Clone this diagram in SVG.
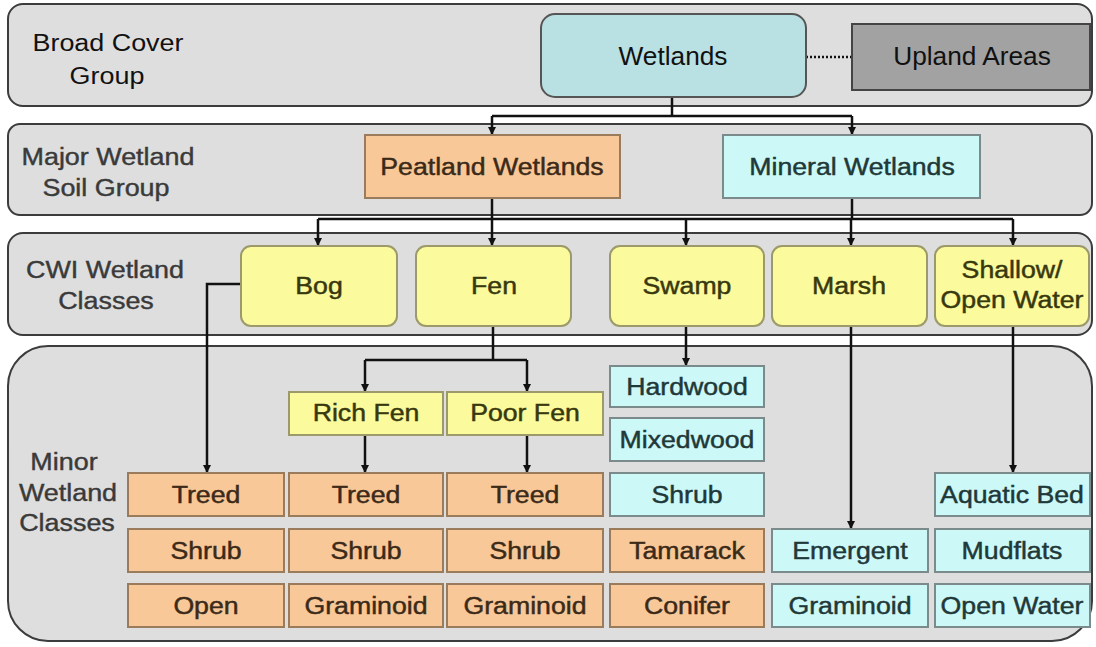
<svg xmlns="http://www.w3.org/2000/svg" width="1096" height="647" viewBox="0 0 1096 647">
<style>
  .band { fill: #dedede; stroke: #3c3c3c; stroke-width: 2; }
  .lbl { font-family: "Liberation Sans", Arial, sans-serif; font-size: 23px; text-anchor: middle; fill: #3a3a3a; stroke: #3a3a3a; stroke-width: 0.4; transform-box: fill-box; transform-origin: center; transform: scaleX(1.17); }
  .lbl-top { fill: #111; stroke: none; }
  .t { font-family: "Liberation Sans", Arial, sans-serif; font-size: 23px; text-anchor: middle; stroke-width: 0.45; transform-box: fill-box; transform-origin: center; transform: scaleX(1.16); }
  .tb { font-family: "Liberation Sans", Arial, sans-serif; font-size: 25px; text-anchor: middle; fill: #111; transform-box: fill-box; transform-origin: center; transform: scaleX(1.05); }
  .or { fill: #f9c898; stroke: #9a7b5c; stroke-width: 2; }
  .cy { fill: #cdf8f8; stroke: #7b8b8b; stroke-width: 2; }
  .ye { fill: #fbfa9c; stroke: #9c9a6a; stroke-width: 2; }
  .or-t { fill: #3b2a18; stroke: #3b2a18; }
  .cy-t { fill: #1f3838; stroke: #1f3838; }
  .ye-t { fill: #38380e; stroke: #38380e; }
  .conn { fill: none; stroke: #111; stroke-width: 2.5; }
</style>
<defs>
  <marker id="arr" viewBox="0 0 10 10" refX="10" refY="5" markerWidth="8" markerHeight="8" markerUnits="userSpaceOnUse" orient="auto">
    <path d="M0,0 L10,5 L0,10 z" fill="#111"/>
  </marker>
</defs>

<!-- bands -->
<g id="band-broad">
  <rect class="band" x="8" y="4" width="1084" height="102" rx="15"/>
  <text class="lbl lbl-top" x="108" y="51">Broad Cover</text>
  <text class="lbl lbl-top" x="107" y="84">Group</text>
</g>
<g id="band-major">
  <rect class="band" x="8" y="124" width="1084" height="91" rx="12"/>
  <text class="lbl" x="108" y="165">Major Wetland</text>
  <text class="lbl" x="106" y="196">Soil Group</text>
</g>
<g id="band-cwi">
  <rect class="band" x="8" y="233" width="1084" height="102" rx="15"/>
  <text class="lbl" x="105" y="278">CWI Wetland</text>
  <text class="lbl" x="106" y="309">Classes</text>
</g>
<g id="band-minor">
  <rect class="band" x="8" y="346" width="1084" height="295" rx="40"/>
  <text class="lbl" x="64" y="470">Minor</text>
  <text class="lbl" x="68" y="501">Wetland</text>
  <text class="lbl" x="67" y="531">Classes</text>
</g>

<!-- connectors -->
<g id="connectors">
  <line x1="806" y1="57" x2="852" y2="57" stroke="#111" stroke-width="2.5" stroke-dasharray="2,2"/>
  <path class="conn" d="M672,97 V116"/>
  <path class="conn" d="M492,116 H852"/>
  <path class="conn" d="M492,116 V135" marker-end="url(#arr)"/>
  <path class="conn" d="M852,116 V135" marker-end="url(#arr)"/>
  <path class="conn" d="M492,198 V219"/>
  <path class="conn" d="M852,198 V219"/>
  <path class="conn" d="M318,219 H1013"/>
  <path class="conn" d="M318,219 V246" marker-end="url(#arr)"/>
  <path class="conn" d="M492,219 V246" marker-end="url(#arr)"/>
  <path class="conn" d="M686,219 V246" marker-end="url(#arr)"/>
  <path class="conn" d="M851,219 V246" marker-end="url(#arr)"/>
  <path class="conn" d="M1013,219 V246" marker-end="url(#arr)"/>
  <path class="conn" d="M241,284 H207 V473" marker-end="url(#arr)"/>
  <path class="conn" d="M493,326 V360"/>
  <path class="conn" d="M365,360 H527"/>
  <path class="conn" d="M365,360 V392" marker-end="url(#arr)"/>
  <path class="conn" d="M527,360 V392" marker-end="url(#arr)"/>
  <path class="conn" d="M365,435 V473" marker-end="url(#arr)"/>
  <path class="conn" d="M527,435 V473" marker-end="url(#arr)"/>
  <path class="conn" d="M686,326 V366" marker-end="url(#arr)"/>
  <path class="conn" d="M851,326 V529" marker-end="url(#arr)"/>
  <path class="conn" d="M1013,326 V473" marker-end="url(#arr)"/>
</g>

<!-- broad cover -->
<g id="wetlands">
  <rect x="541" y="14" width="265" height="83" rx="14" fill="#b9e0e3" stroke="#555" stroke-width="2"/>
  <text class="tb" x="673" y="65">Wetlands</text>
</g>
<g id="upland">
  <rect x="852" y="24" width="238" height="66" fill="#a2a2a2" stroke="#444" stroke-width="2"/>
  <text class="tb" x="972" y="65">Upland Areas</text>
</g>

<!-- major soil groups -->
<g id="peatland">
  <rect class="or" x="365" y="135" width="255" height="63"/>
  <text class="t or-t" x="492" y="175">Peatland Wetlands</text>
</g>
<g id="mineral">
  <rect class="cy" x="723" y="135" width="257" height="63"/>
  <text class="t cy-t" x="852" y="175">Mineral Wetlands</text>
</g>

<!-- CWI classes -->
<g id="bog">
  <rect class="ye" x="241" y="246" width="156" height="80" rx="10"/>
  <text class="t ye-t" x="319" y="294">Bog</text>
</g>
<g id="fen">
  <rect class="ye" x="416" y="246" width="155" height="80" rx="10"/>
  <text class="t ye-t" x="494" y="294">Fen</text>
</g>
<g id="swamp">
  <rect class="ye" x="610" y="246" width="154" height="80" rx="10"/>
  <text class="t ye-t" x="687" y="294">Swamp</text>
</g>
<g id="marsh">
  <rect class="ye" x="772" y="246" width="155" height="80" rx="10"/>
  <text class="t ye-t" x="849" y="294">Marsh</text>
</g>
<g id="shallow">
  <rect class="ye" x="935" y="246" width="154" height="80" rx="10"/>
  <text class="t ye-t" x="1012" y="278">Shallow/</text>
  <text class="t ye-t" x="1012" y="308">Open Water</text>
</g>

<!-- fen subclasses -->
<g id="richfen">
  <rect class="ye" x="289" y="392" width="154" height="43"/>
  <text class="t ye-t" x="366" y="421">Rich Fen</text>
</g>
<g id="poorfen">
  <rect class="ye" x="447" y="392" width="156" height="43"/>
  <text class="t ye-t" x="525" y="421">Poor Fen</text>
</g>

<!-- bog minor classes -->
<g id="bog-treed"><rect class="or" x="128" y="473" width="156" height="43"/><text class="t or-t" x="206" y="503">Treed</text></g>
<g id="bog-shrub"><rect class="or" x="128" y="529" width="156" height="43"/><text class="t or-t" x="206" y="559">Shrub</text></g>
<g id="bog-open"><rect class="or" x="128" y="584" width="156" height="43"/><text class="t or-t" x="206" y="614">Open</text></g>

<!-- rich fen minor classes -->
<g id="rich-treed"><rect class="or" x="289" y="473" width="154" height="43"/><text class="t or-t" x="366" y="503">Treed</text></g>
<g id="rich-shrub"><rect class="or" x="289" y="529" width="154" height="43"/><text class="t or-t" x="366" y="559">Shrub</text></g>
<g id="rich-gram"><rect class="or" x="289" y="584" width="154" height="43"/><text class="t or-t" x="366" y="614">Graminoid</text></g>

<!-- poor fen minor classes -->
<g id="poor-treed"><rect class="or" x="447" y="473" width="156" height="43"/><text class="t or-t" x="525" y="503">Treed</text></g>
<g id="poor-shrub"><rect class="or" x="447" y="529" width="156" height="43"/><text class="t or-t" x="525" y="559">Shrub</text></g>
<g id="poor-gram"><rect class="or" x="447" y="584" width="156" height="43"/><text class="t or-t" x="525" y="614">Graminoid</text></g>

<!-- swamp minor classes -->
<g id="sw-hard"><rect class="cy" x="610" y="366" width="154" height="41"/><text class="t cy-t" x="687" y="395">Hardwood</text></g>
<g id="sw-mixed"><rect class="cy" x="610" y="418" width="154" height="43"/><text class="t cy-t" x="687" y="448">Mixedwood</text></g>
<g id="sw-shrub"><rect class="cy" x="610" y="473" width="154" height="43"/><text class="t cy-t" x="687" y="503">Shrub</text></g>
<g id="sw-tam"><rect class="or" x="610" y="529" width="154" height="43"/><text class="t or-t" x="687" y="559">Tamarack</text></g>
<g id="sw-con"><rect class="or" x="610" y="584" width="154" height="43"/><text class="t or-t" x="687" y="614">Conifer</text></g>

<!-- marsh minor classes -->
<g id="ma-emer"><rect class="cy" x="772" y="529" width="156" height="43"/><text class="t cy-t" x="850" y="559">Emergent</text></g>
<g id="ma-gram"><rect class="cy" x="772" y="584" width="156" height="43"/><text class="t cy-t" x="850" y="614">Graminoid</text></g>

<!-- shallow water minor classes -->
<g id="sh-aq"><rect class="cy" x="935" y="473" width="155" height="43"/><text class="t cy-t" x="1012" y="503">Aquatic Bed</text></g>
<g id="sh-mud"><rect class="cy" x="935" y="529" width="155" height="43"/><text class="t cy-t" x="1012" y="559">Mudflats</text></g>
<g id="sh-ow"><rect class="cy" x="935" y="584" width="155" height="43"/><text class="t cy-t" x="1012" y="614">Open Water</text></g>
</svg>
